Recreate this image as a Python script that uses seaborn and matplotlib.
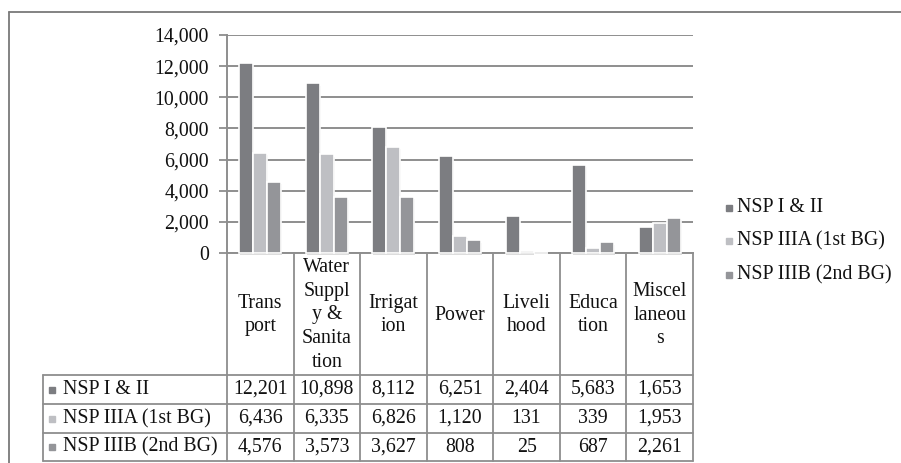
import matplotlib
matplotlib.use("Agg")
import matplotlib.pyplot as plt
import matplotlib.transforms as mtransforms
import matplotlib.patheffects as pe
from matplotlib.lines import Line2D
import pandas as pd
import seaborn as sns

# ---- data -------------------------------------------------------------
categories = ["Trans\nport", "Water\nSuppl\ny &\nSanita\ntion", "Irrigat\nion",
              "Power", "Liveli\nhood", "Educa\ntion", "Miscel\nlaneou\ns"]
series = ["NSP I & II", "NSP IIIA (1st BG)", "NSP IIIB (2nd BG)"]
nsp_1_2 = [12201, 10898, 8112, 6251, 2404, 5683, 1653]
nsp_3a = [6436, 6335, 6826, 1120, 131, 339, 1953]
nsp_3b = [4576, 3573, 3627, 808, 25, 687, 2261]
y_ticks = [0, 2000, 4000, 6000, 8000, 10000, 12000, 14000]

colors = ["#7c7d81", "#bebfc3", "#949599"]
line_c = "#8e8e8e"

values = [nsp_1_2, nsp_3a, nsp_3b]
df = pd.DataFrame({
    "category": [c for _ in series for c in categories],
    "series": [s for s in series for _ in categories],
    "value": [v for vals in values for v in vals],
})

# ---- figure -----------------------------------------------------------
sns.set_theme(style="white")
plt.rcParams["font.family"] = ["Liberation Serif", "DejaVu Serif"]
FS = 14.3

W, H = 901, 463
fig = plt.figure(figsize=(W / 100, H / 100), dpi=100)


def fx(px):
    return px / W


def fy(py):
    return 1 - py / H


ax_l, ax_r, ax_t, ax_b = 227, 693, 35, 253
ax = fig.add_axes([fx(ax_l), fy(ax_b), fx(ax_r) - fx(ax_l), fy(ax_t) - fy(ax_b)])

sns.barplot(data=df, x="category", y="value", hue="series", order=categories,
            hue_order=series, palette=colors, width=0.63, edgecolor="white",
            linewidth=1.2, saturation=1, legend=False, ax=ax)

shadow = [pe.SimplePatchShadow(offset=(0.6, -1.6), shadow_rgbFace="#444444", alpha=0.18),
          pe.Normal()]
for bar in ax.patches:
    bar.set_path_effects(shadow)
    bar.set_clip_on(False)
    bar.set_zorder(3)

ax.set_xlim(-0.5, len(categories) - 0.5)
ax.set_ylim(0, 14000)
ax.set_yticks(y_ticks)
ax.set_yticklabels([f"{t:,}" for t in y_ticks], fontsize=FS, color="#111111")
ax.set_xticks([])
ax.set_xlabel("")
ax.set_ylabel("")
ax.tick_params(axis="y", length=6, width=1.3, color=line_c, pad=7, left=True)
ax.yaxis.grid(True, color=line_c, linewidth=1.4)
ax.set_axisbelow(True)
for side in ("top", "right"):
    ax.spines[side].set_visible(False)
for side in ("left", "bottom"):
    ax.spines[side].set_color(line_c)
    ax.spines[side].set_linewidth(1.4)
ax.patch.set_alpha(0)

# ---- data table under the axis ----------------------------------------
blend = mtransforms.blended_transform_factory(ax.transData, fig.transFigure)
row_edges = [375, 404, 433, 461]
label_left = 43
n = len(categories)
lw_t = 1.3

# vertical column boundaries
for i in range(n + 1):
    fig.add_artist(Line2D([i - 0.5, i - 0.5], [fy(ax_b), fy(row_edges[-1])],
                          transform=blend, color=line_c, lw=lw_t))
# horizontal row lines
for ry in row_edges:
    fig.add_artist(Line2D([fx(label_left), fx(ax_r)], [fy(ry), fy(ry)],
                          transform=fig.transFigure, color=line_c, lw=lw_t))
fig.add_artist(Line2D([fx(label_left), fx(label_left)], [fy(row_edges[0]), fy(row_edges[-1])],
                      transform=fig.transFigure, color=line_c, lw=lw_t))

# header cells with category names
for i, cat in enumerate(categories):
    fig.text(i, fy((ax_b + row_edges[0]) / 2 + 1), cat, transform=blend, ha="center",
             va="center", fontsize=FS, linespacing=1.35, color="#111111")

# value rows
for r, (name, vals, col) in enumerate(zip(series, values, colors)):
    yc = fy((row_edges[r] + row_edges[r + 1]) / 2)
    fig.add_artist(Line2D([fx(52)], [yc], transform=fig.transFigure, marker="s",
                          markersize=5, color=col, linestyle=""))
    fig.text(fx(63), yc, name, transform=fig.transFigure, ha="left", va="center",
             fontsize=FS, color="#111111")
    for i, v in enumerate(vals):
        fig.text(i, yc, f"{v:,}", transform=blend, ha="center", va="center",
                 fontsize=FS, color="#111111")

# ---- legend -------------------------------------------------------------
for name, col, ly in zip(series, colors, [208, 241, 275]):
    fig.add_artist(Line2D([fx(729)], [fy(ly)], transform=fig.transFigure, marker="s",
                          markersize=5, color=col, linestyle=""))
    fig.text(fx(737), fy(ly), name, transform=fig.transFigure, ha="left",
             va="center", fontsize=FS, color="#111111")

# ---- outer chart frame --------------------------------------------------
fig.add_artist(Line2D([fx(9), 1.0], [fy(12), fy(12)], transform=fig.transFigure,
                      color="#7a7a7a", lw=1.3))
fig.add_artist(Line2D([fx(9), fx(9)], [fy(12), 0.0], transform=fig.transFigure,
                      color="#7a7a7a", lw=1.3))

fig.savefig("out.png", dpi=100)
